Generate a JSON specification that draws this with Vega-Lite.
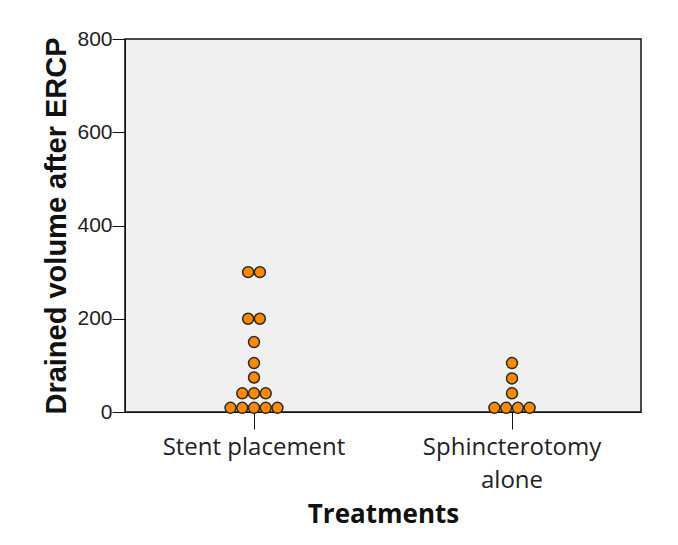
{
  "$schema": "https://vega.github.io/schema/vega-lite/v6.json",
  "autosize": "none",
  "width": 516,
  "height": 373,
  "padding": {"left": 125, "top": 39, "right": 37, "bottom": 133},
  "background": "white",
  "config": {
    "view": {"fill": "#f0f0f0", "stroke": "#111111", "strokeWidth": 1.5},
    "axis": {"grid": false, "domainColor": "#111111", "tickColor": "#111111", "labelColor": "#222222", "titleColor": "#111111"}
  },
  "data": {
    "values": [
      {"treatment": "Stent placement", "volume": 300},
      {"treatment": "Stent placement", "volume": 300},
      {"treatment": "Stent placement", "volume": 200},
      {"treatment": "Stent placement", "volume": 200},
      {"treatment": "Stent placement", "volume": 150},
      {"treatment": "Stent placement", "volume": 105},
      {"treatment": "Stent placement", "volume": 74},
      {"treatment": "Stent placement", "volume": 40},
      {"treatment": "Stent placement", "volume": 40},
      {"treatment": "Stent placement", "volume": 40},
      {"treatment": "Stent placement", "volume": 9},
      {"treatment": "Stent placement", "volume": 9},
      {"treatment": "Stent placement", "volume": 9},
      {"treatment": "Stent placement", "volume": 9},
      {"treatment": "Stent placement", "volume": 9},
      {"treatment": "Sphincterotomy alone", "volume": 105},
      {"treatment": "Sphincterotomy alone", "volume": 72},
      {"treatment": "Sphincterotomy alone", "volume": 40},
      {"treatment": "Sphincterotomy alone", "volume": 9},
      {"treatment": "Sphincterotomy alone", "volume": 9},
      {"treatment": "Sphincterotomy alone", "volume": 9},
      {"treatment": "Sphincterotomy alone", "volume": 9}
    ]
  },
  "transform": [
    {"window": [{"op": "row_number", "as": "rank"}], "groupby": ["treatment", "volume"]},
    {"joinaggregate": [{"op": "count", "as": "n"}], "groupby": ["treatment", "volume"]},
    {"calculate": "datum.rank - (datum.n + 1) / 2", "as": "offset"}
  ],
  "mark": {"type": "circle", "size": 120, "fill": "#ff8a00", "stroke": "#2a2a2a", "strokeWidth": 1.5, "opacity": 1},
  "encoding": {
    "x": {
      "field": "treatment",
      "type": "nominal",
      "sort": ["Stent placement", "Sphincterotomy alone"],
      "scale": {"paddingInner": 0, "paddingOuter": 0},
      "axis": {
        "title": "Treatments",
        "titleFont": "Open Sans",
        "titleFontSize": 26,
        "titleFontWeight": "bold",
        "titlePadding": 9,
        "labelFont": "Open Sans",
        "labelFontSize": 24,
        "labelAngle": 0,
        "labelPadding": 6,
        "labelLimit": 0,
        "labelLineHeight": 33,
        "tickSize": 17,
        "labelExpr": "datum.label == 'Sphincterotomy alone' ? ['Sphincterotomy', 'alone'] : datum.label"
      }
    },
    "xOffset": {"field": "offset", "type": "quantitative", "scale": {"domain": [-11, 11]}},
    "y": {
      "field": "volume",
      "type": "quantitative",
      "scale": {"domain": [0, 800], "nice": false},
      "axis": {
        "title": "Drained volume after ERCP",
        "titleFont": "Liberation Sans",
        "titleFontSize": 29,
        "titleFontWeight": "bold",
        "titlePadding": 5,
        "labelFont": "Liberation Sans",
        "labelFontSize": 21,
        "labelPadding": 0,
        "tickSize": 13,
        "values": [0, 200, 400, 600, 800]
      }
    }
  }
}
